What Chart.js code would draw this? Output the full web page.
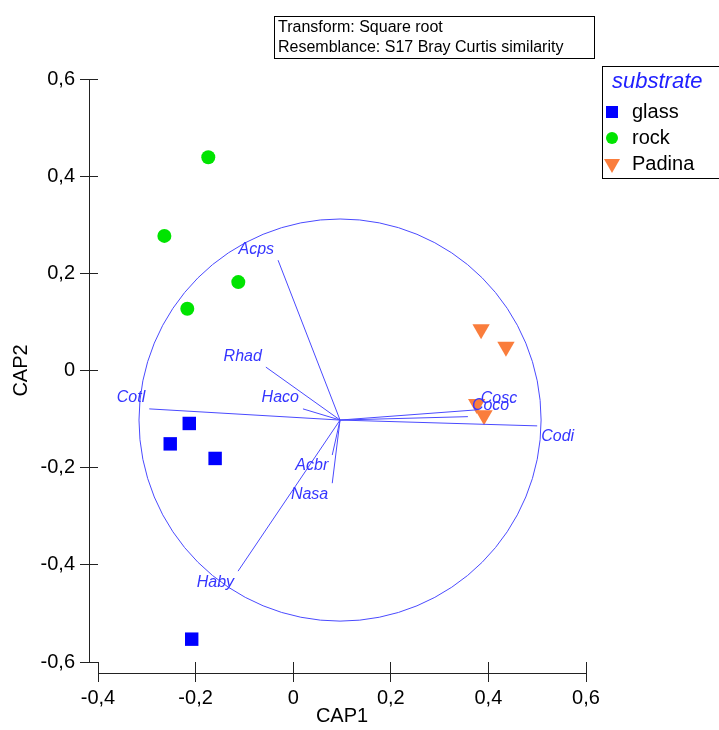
<!DOCTYPE html>
<html>
<head>
<meta charset="utf-8">
<script src="https://cdn.jsdelivr.net/npm/chart.js@4.4.1/dist/chart.umd.min.js"></script>
<style>
  body { margin: 0; background: #fff; }
</style>
</head>
<body>
<canvas id="capChart" width="719" height="730"></canvas>
<script>
// CAP scores of the samples, one pair of arrays per substrate
const glassX = [-0.213, -0.252, -0.160, -0.208];
const glassY = [-0.109, -0.151, -0.181, -0.553];
const rockX = [-0.174, -0.264, -0.1125, -0.217];
const rockY = [0.439, 0.277, 0.182, 0.127];
const padinaX = [0.385, 0.436, 0.376, 0.391];
const padinaY = [0.085, 0.049, -0.069, -0.092];

// species vectors, drawn from the centre of the correlation circle
const vectorNames = ['Acps', 'Rhad', 'Haco', 'Cotl', 'Codi', 'Cosc', 'Coco', 'Acbr', 'Nasa', 'Haby'];
const vectorX = [-0.031, -0.056, 0.020, -0.295, 0.500, 0.376, 0.358, 0.080, 0.080, -0.113];
const vectorY = [0.227, 0.007, -0.079, -0.079, -0.114, -0.081, -0.095, -0.174, -0.232, -0.413];
const circleCentre = [0.096, -0.102];
const circleRadius = 0.412;

const xTicks = [-0.4, -0.2, 0, 0.2, 0.4, 0.6];
const yTicks = [-0.6, -0.4, -0.2, 0, 0.2, 0.4, 0.6];
const headerLines = ['Transform: Square root', 'Resemblance: S17 Bray Curtis similarity'];
const legendTitle = 'substrate';
const groupNames = ['glass', 'rock', 'Padina'];
const groupColors = ['#0000ff', '#00e400', '#fa7d3c'];

const FONT = "'Liberation Sans', Arial, sans-serif";
const VEC_COLOR = '#4a4aff';
const LABEL_COLOR = '#3535ff';

function fmt(v) {
    if (Math.abs(v) < 1e-9) return '0';
    return v.toFixed(1).replace('.', ',');
}

function toPoints(xs, ys) {
    return xs.map((x, i) => ({ x: x, y: ys[i] }));
}

const datasets = [
    { label: groupNames[0], data: toPoints(glassX, glassY), pointStyle: 'rect', pointRadius: 9.5,
      backgroundColor: groupColors[0], borderWidth: 0, order: 1 },
    { label: groupNames[1], data: toPoints(rockX, rockY), pointStyle: 'circle', pointRadius: 7,
      backgroundColor: groupColors[1], borderWidth: 0, order: 1 },
    { label: groupNames[2], data: toPoints(padinaX, padinaY), pointStyle: 'triangle', pointRotation: 180,
      pointRadius: 10, backgroundColor: groupColors[2], borderWidth: 0, order: 1 }
];

// each vector is a two point line from the circle centre
vectorNames.forEach((name, i) => {
    datasets.push({
        label: name,
        data: [{ x: circleCentre[0], y: circleCentre[1] }, { x: vectorX[i], y: vectorY[i] }],
        showLine: true,
        borderColor: VEC_COLOR,
        borderWidth: 1,
        pointRadius: 0,
        order: 0
    });
});

const capPlugin = {
    id: 'capExtras',
    afterDatasetsDraw(chart) {
        const ctx = chart.ctx;
        const xs = chart.scales.x;
        const ys = chart.scales.y;
        const cx = xs.getPixelForValue(circleCentre[0]);
        const cy = ys.getPixelForValue(circleCentre[1]);
        const r = Math.abs(xs.getPixelForValue(circleCentre[0] + circleRadius) - cx);

        ctx.save();
        ctx.strokeStyle = VEC_COLOR;
        ctx.lineWidth = 1;
        ctx.beginPath();
        ctx.arc(cx, cy, r, 0, Math.PI * 2);
        ctx.stroke();

        // vector labels sit just beyond the arrow end
        ctx.font = 'italic 16px ' + FONT;
        ctx.fillStyle = LABEL_COLOR;
        ctx.textBaseline = 'middle';
        vectorNames.forEach((name, i) => {
            const ex = xs.getPixelForValue(vectorX[i]);
            const ey = ys.getPixelForValue(vectorY[i]);
            const dx = ex - cx;
            const dy = ey - cy;
            ctx.textAlign = dx < 0 ? 'right' : 'left';
            ctx.fillText(name, ex + (dx < 0 ? -4 : 4), ey + (dy < 0 ? -11 : 11));
        });
        ctx.restore();
    },
    afterDraw(chart) {
        const ctx = chart.ctx;
        const xs = chart.scales.x;
        const ys = chart.scales.y;
        const left = xs.getPixelForValue(xTicks[0]);
        const right = xs.getPixelForValue(xTicks[xTicks.length - 1]);
        const top = ys.getPixelForValue(yTicks[yTicks.length - 1]);
        const bottom = ys.getPixelForValue(yTicks[0]);

        ctx.save();
        // detached axis lines
        ctx.strokeStyle = '#222';
        ctx.lineWidth = 1;
        ctx.beginPath();
        ctx.moveTo(Math.round(left) - 9 + 0.5, top);
        ctx.lineTo(Math.round(left) - 9 + 0.5, bottom);
        ctx.moveTo(left, Math.round(bottom) + 11 + 0.5);
        ctx.lineTo(right, Math.round(bottom) + 11 + 0.5);
        ctx.stroke();

        // header box
        ctx.strokeStyle = '#000';
        ctx.strokeRect(274.5, 16.5, 320, 42);
        ctx.fillStyle = '#000';
        ctx.font = '16px ' + FONT;
        ctx.textAlign = 'left';
        ctx.textBaseline = 'alphabetic';
        ctx.fillText(headerLines[0], 278, 32);
        ctx.fillText(headerLines[1], 278, 52);

        // legend box
        ctx.strokeRect(602.5, 66.5, 130, 112);
        ctx.fillStyle = '#2020ff';
        ctx.font = 'italic 22px ' + FONT;
        ctx.textBaseline = 'middle';
        ctx.fillText(legendTitle, 612, 82);
        ctx.font = '20px ' + FONT;
        groupNames.forEach((name, i) => {
            const my = 112 + i * 26;
            ctx.fillStyle = groupColors[i];
            ctx.beginPath();
            if (i === 0) {
                ctx.rect(606, my - 6, 12, 12);
            } else if (i === 1) {
                ctx.arc(612, my, 6, 0, Math.PI * 2);
            } else {
                ctx.moveTo(604, my - 5);
                ctx.lineTo(620, my - 5);
                ctx.lineTo(612, my + 9);
                ctx.closePath();
            }
            ctx.fill();
            ctx.fillStyle = '#000';
            ctx.fillText(name, 632, my);
        });
        ctx.restore();
    }
};

const tickFont = { family: FONT, size: 20 };

new Chart(document.getElementById('capChart'), {
    type: 'scatter',
    data: { datasets: datasets },
    options: {
        responsive: false,
        animation: false,
        layout: { padding: { left: 0, top: 79, right: 133, bottom: 0 } },
        plugins: {
            legend: { display: false },
            tooltip: { enabled: false }
        },
        scales: {
            x: {
                min: -0.4,
                max: 0.6,
                afterBuildTicks: s => { s.ticks = xTicks.map(v => ({ value: v })); },
                afterFit: s => { s.height = 68; },
                grid: { drawOnChartArea: false, drawTicks: true, tickLength: 20, color: '#222', lineWidth: 1 },
                border: { display: false },
                ticks: { padding: 4, color: '#000', font: tickFont, callback: v => fmt(v), maxRotation: 0, autoSkip: false },
                title: { display: true, text: 'CAP1', color: '#000', font: tickFont, padding: { top: 0, bottom: 2 } }
            },
            y: {
                min: -0.6,
                max: 0.6,
                afterBuildTicks: s => { s.ticks = yTicks.map(v => ({ value: v })); },
                afterFit: s => { s.width = 98; },
                grid: { drawOnChartArea: false, drawTicks: true, tickLength: 18, color: '#222', lineWidth: 1 },
                border: { display: false },
                ticks: { padding: 5, color: '#000', font: tickFont, callback: v => fmt(v), autoSkip: false },
                title: { display: true, text: 'CAP2', color: '#000', font: tickFont, padding: { top: 9, bottom: 0 } }
            }
        }
    },
    plugins: [capPlugin]
});
</script>
</body>
</html>
